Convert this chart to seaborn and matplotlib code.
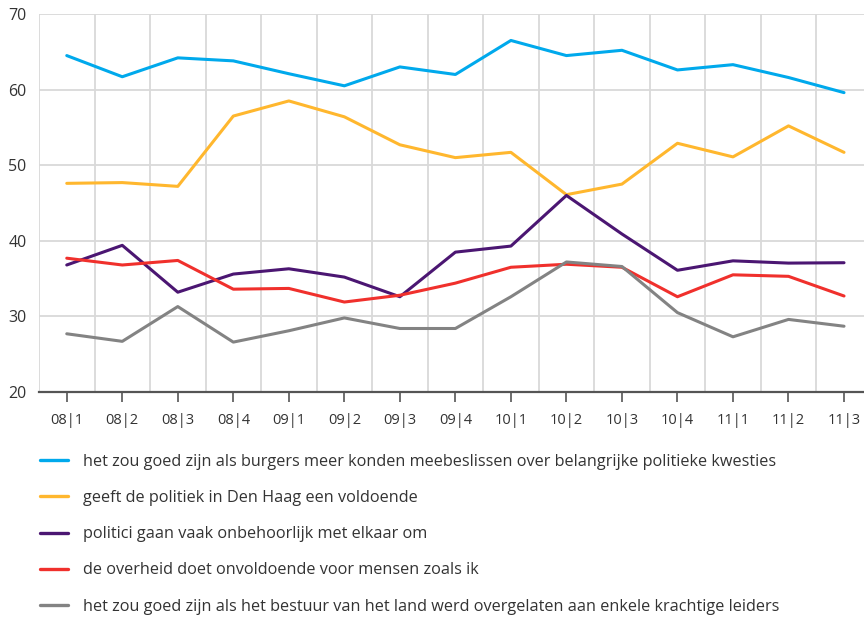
import numpy as np
import pandas as pd
import matplotlib
matplotlib.use("Agg")
import matplotlib.pyplot as plt
import seaborn as sns
from matplotlib.ticker import FixedLocator
from matplotlib.lines import Line2D

periods = ["08|1", "08|2", "08|3", "08|4", "09|1", "09|2", "09|3", "09|4",
           "10|1", "10|2", "10|3", "10|4", "11|1", "11|2", "11|3"]

labels = [
    "het zou goed zijn als burgers meer konden meebeslissen over belangrijke politieke kwesties",
    "geeft de politiek in Den Haag een voldoende",
    "politici gaan vaak onbehoorlijk met elkaar om",
    "de overheid doet onvoldoende voor mensen zoals ik",
    "het zou goed zijn als het bestuur van het land werd overgelaten aan enkele krachtige leiders",
]

meebeslissen = [64.5, 61.7, 64.2, 63.8, 62.1, 60.5, 63.0, 62.0, 66.5, 64.5, 65.2, 62.6, 63.3, 61.6, 59.6]
voldoende = [47.6, 47.7, 47.2, 56.5, 58.5, 56.4, 52.7, 51.0, 51.7, 46.1, 47.5, 52.9, 51.1, 55.2, 51.7]
onbehoorlijk = [36.8, 39.4, 33.2, 35.6, 36.3, 35.2, 32.6, 38.5, 39.3, 46.0, 40.9, 36.1, 37.35, 37.05, 37.1]
onvoldoende = [37.7, 36.8, 37.4, 33.6, 33.7, 31.9, 32.8, 34.4, 36.5, 36.9, 36.5, 32.6, 35.5, 35.3, 32.7]
leiders = [27.7, 26.7, 31.3, 26.6, 28.1, 29.8, 28.4, 28.4, 32.6, 37.2, 36.6, 30.5, 27.3, 29.6, 28.7]

series = [meebeslissen, voldoende, onbehoorlijk, onvoldoende, leiders]
colors = ["#00a9ec", "#ffb72e", "#4b1672", "#f0302c", "#838383"]

yticks = [20, 30, 40, 50, 60, 70]

rows = []
for lab, vals in zip(labels, series):
    for i, (p, v) in enumerate(zip(periods, vals)):
        rows.append({"idx": i, "period": p, "value": v, "serie": lab})
df = pd.DataFrame(rows)

sns.set_theme(style="white")
plt.rcParams["font.family"] = ["Open Sans", "DejaVu Sans"]

fig = plt.figure(figsize=(8.64, 6.17), dpi=100)
ax = fig.add_axes([39 / 864, 1 - 392 / 617, 1 - 39 / 864, (392 - 14) / 617])

sns.lineplot(data=df, x="idx", y="value", hue="serie", hue_order=labels,
             palette=colors, linewidth=2.2, ax=ax, legend=False)

ax.set_xlim(-0.5, 14.36)
ax.set_ylim(20, 70)
ax.set_xlabel("")
ax.set_ylabel("")

ax.xaxis.set_minor_locator(FixedLocator(np.arange(-0.5, 14, 1.0)))
ax.set_xticks(range(len(periods)))
ax.set_xticklabels(periods)
ax.set_yticks(yticks)
ax.set_yticklabels([str(t) for t in yticks])
ax.grid(False)
ax.grid(axis="y", which="major", color="#d9d9d9", linewidth=1.3)
ax.grid(axis="x", which="minor", color="#d9d9d9", linewidth=1.3)
ax.set_axisbelow(True)

for s in ["top", "right", "left"]:
    ax.spines[s].set_visible(False)
ax.spines["bottom"].set_color("#555555")
ax.spines["bottom"].set_linewidth(1.6)

ax.tick_params(axis="x", which="major", direction="out", length=7, width=1.2,
               color="#555555", labelsize=10.5, labelcolor="#333333", pad=8, bottom=True)
ax.tick_params(axis="x", which="minor", length=0)
ax.tick_params(axis="y", which="major", length=0, labelsize=11.5, labelcolor="#333333", pad=9)

handles = [Line2D([0], [0], color=c, linewidth=2.4) for c in colors]
leg = fig.legend(handles, labels, loc="upper left", bbox_to_anchor=(40 / 864, 1 - 454 / 617),
                 frameon=False, fontsize=11.7, handlelength=1.75, handletextpad=0.9,
                 labelspacing=1.24, borderaxespad=0, borderpad=0)
for t in leg.get_texts():
    t.set_color("#333333")

fig.savefig("out.png", dpi=100)
